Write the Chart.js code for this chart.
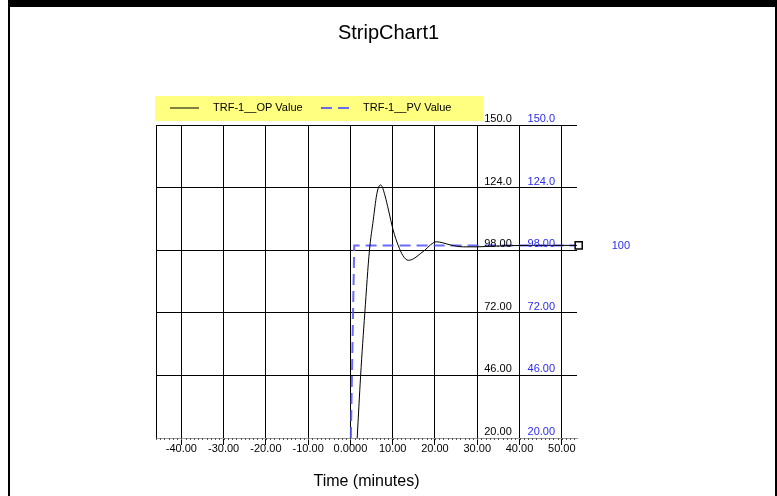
<!DOCTYPE html>
<html>
<head>
<meta charset="utf-8">
<script src="https://cdn.jsdelivr.net/npm/chart.js@4.4.1/dist/chart.umd.min.js"></script>
<style>
  html, body { margin: 0; padding: 0; background: #fff; }
  #wrap { position: relative; width: 777px; height: 496px; }
</style>
</head>
<body>
<div id="wrap"><canvas id="strip" width="777" height="496"></canvas></div>
<script>
// ---- chart text ----
const chartTitle = 'StripChart1';
const xAxisTitle = 'Time (minutes)';

// ---- axes ----
const xMin = -46;
const xMax = 53.6;
const xTickValues = [-40, -30, -20, -10, 0, 10, 20, 30, 40, 50];
const xTickLabels = ['-40.00', '-30.00', '-20.00', '-10.00', '0.0000', '10.00', '20.00', '30.00', '40.00', '50.00'];
const yMin = 20;
const yMax = 150;
const yTickValues = [20, 46, 72, 98, 124, 150];
const yTickLabels = ['20.00', '46.00', '72.00', '98.00', '124.0', '150.0'];

// ---- series: controller output ----
const opLabel = 'TRF-1__OP Value';
const opTimes  = [1.6, 2.4, 3.4, 4.5, 5.4, 6.2, 6.7, 7.1, 7.5, 8.2, 9.0, 10.1, 11.3, 12.4, 13.7, 15.0, 16.5, 17.6, 19.0, 20.3, 21.8, 23.6, 26.7, 30.0, 34.0, 38.0, 42.0, 46.0, 50.0, 53.6];
const opValues = [20, 45.7, 71.9, 98, 110.5, 121, 124.3, 125.1, 124.4, 120.5, 114.7, 106.4, 100, 95.8, 93.8, 94.5, 96.5, 98, 100.3, 101.5, 101.1, 100.2, 99.4, 99.4, 99.7, 99.9, 100, 100, 100, 100];

// ---- series: process value ----
const pvLabel = 'TRF-1__PV Value';
const pvTimes  = [0.1, 0.9, 54.0];
const pvValues = [20, 100, 100];

const FAMILY = '"Liberation Sans", Arial, Helvetica, sans-serif';
const BLUE_TEXT = '#2b2bf0';

const toPoints = (xs, ys) => xs.map((x, i) => ({ x: x, y: ys[i] }));

// Frame, legend band, in-plot value labels, minor ticks and the live value readout
const stripDecor = {
  id: 'stripDecor',
  beforeDraw(chart) {
    const { ctx, width, height } = chart;
    ctx.save();
    ctx.fillStyle = '#fff';
    ctx.fillRect(0, 0, width, height);
    ctx.fillStyle = '#000';
    ctx.fillRect(8, 0, width - 8, 7);
    ctx.fillRect(8, 0, 2, height);
    ctx.fillRect(width - 2, 0, 2, height);
    ctx.restore();
  },
  afterDraw(chart) {
    const { ctx, chartArea } = chart;
    const xs = chart.scales.x;
    const ys = chart.scales.y;
    ctx.save();

    // minor ticks along the time axis, one per minute
    ctx.fillStyle = '#555';
    for (let t = Math.ceil(xMin); t <= Math.floor(xMax); t++) {
      const px = Math.round(xs.getPixelForValue(t));
      ctx.fillRect(px, chartArea.bottom, 1, 2);
    }

    // value labels sitting on the horizontal grid lines
    ctx.font = '11px ' + FAMILY;
    ctx.textAlign = 'left';
    ctx.textBaseline = 'alphabetic';
    const colA = xs.getPixelForValue(30) + 7;
    const colB = xs.getPixelForValue(40) + 8;
    yTickValues.forEach((v, i) => {
      const py = ys.getPixelForValue(v) - 3;
      ctx.fillStyle = '#000';
      ctx.fillText(yTickLabels[i], colA, py);
      ctx.fillStyle = BLUE_TEXT;
      ctx.fillText(yTickLabels[i], colB, py);
    });

    // current PV readout to the right of the end marker
    const lastPv = pvValues[pvValues.length - 1];
    const mx = xs.getPixelForValue(pvTimes[pvTimes.length - 1]);
    const my = ys.getPixelForValue(lastPv);
    ctx.fillStyle = BLUE_TEXT;
    ctx.textBaseline = 'middle';
    ctx.fillText(String(Math.round(lastPv)), mx + 33, my + 1);

    // legend band
    const lx = 155, ly = 96, lw = 328, lh = 25;
    ctx.fillStyle = '#ffff80';
    ctx.fillRect(lx, ly, lw, lh);
    const cy = ly + 11.5;
    const items = [
      { ds: chart.data.datasets[0], x0: 170, x1: 199, tx: 213 },
      { ds: chart.data.datasets[1], x0: 321, x1: 349, tx: 363 }
    ];
    items.forEach(it => {
      ctx.beginPath();
      ctx.setLineDash(it.ds.borderDash || []);
      ctx.strokeStyle = it.ds.borderColor;
      ctx.lineWidth = it.ds.borderWidth;
      ctx.moveTo(it.x0, Math.round(cy));
      ctx.lineTo(it.x1, Math.round(cy));
      ctx.stroke();
      ctx.setLineDash([]);
      ctx.fillStyle = '#000';
      ctx.textBaseline = 'middle';
      ctx.fillText(it.ds.label, it.tx, cy);
    });
    ctx.restore();
  }
};

new Chart(document.getElementById('strip'), {
  type: 'line',
  data: {
    datasets: [
      {
        label: opLabel,
        data: toPoints(opTimes, opValues),
        borderColor: '#000',
        borderWidth: 1,
        pointRadius: 0,
        cubicInterpolationMode: 'monotone',
        fill: false
      },
      {
        label: pvLabel,
        data: toPoints(pvTimes, pvValues),
        borderColor: 'rgba(80,80,255,0.85)',
        borderWidth: 2,
        borderDash: [11, 6],
        tension: 0,
        pointStyle: 'rect',
        pointRadius: pvTimes.map((_, i) => (i === pvTimes.length - 1 ? 5 : 0)),
        pointBackgroundColor: '#fff',
        pointBorderColor: '#000',
        pointBorderWidth: 1.5,
        clip: false,
        fill: false
      }
    ]
  },
  options: {
    responsive: false,
    devicePixelRatio: 1,
    animation: false,
    layout: { padding: 0 },
    plugins: {
      legend: { display: false },
      tooltip: { enabled: false },
      title: {
        display: true,
        text: chartTitle,
        color: '#000',
        font: { family: FAMILY, size: 20, weight: 'normal' },
        padding: { top: 21, bottom: 80 }
      }
    },
    scales: {
      x: {
        type: 'linear',
        min: xMin,
        max: xMax,
        afterBuildTicks: s => { s.ticks = xTickValues.map(v => ({ value: v })); },
        afterFit: s => { s.height = 58; },
        grid: { color: '#000', lineWidth: 1, tickLength: 7, tickColor: '#000' },
        border: { display: true, color: '#9a9a9a', width: 1 },
        ticks: {
          autoSkip: false,
          maxRotation: 0,
          padding: -3,
          color: '#000',
          font: { family: FAMILY, size: 11 },
          callback: (v, i) => xTickLabels[i]
        },
        title: {
          display: true,
          text: xAxisTitle,
          color: '#000',
          font: { family: FAMILY, size: 16 },
          padding: { top: 0, bottom: 5 }
        }
      },
      y: {
        type: 'linear',
        position: 'left',
        min: yMin,
        max: yMax,
        afterBuildTicks: s => { s.ticks = yTickValues.map(v => ({ value: v })); },
        afterFit: s => { s.width = 156; },
        grid: {
          color: c => (c.tick && c.tick.value === yMin ? 'rgba(0,0,0,0)' : '#000'),
          drawTicks: false
        },
        border: { display: true, color: '#000', width: 1 },
        ticks: { display: false }
      },
      yRight: {
        type: 'linear',
        position: 'right',
        min: yMin,
        max: yMax,
        afterFit: s => { s.width = 200; },
        grid: { display: false, drawOnChartArea: false },
        border: { display: false },
        ticks: { display: false }
      }
    }
  },
  plugins: [stripDecor]
});
</script>
</body>
</html>
